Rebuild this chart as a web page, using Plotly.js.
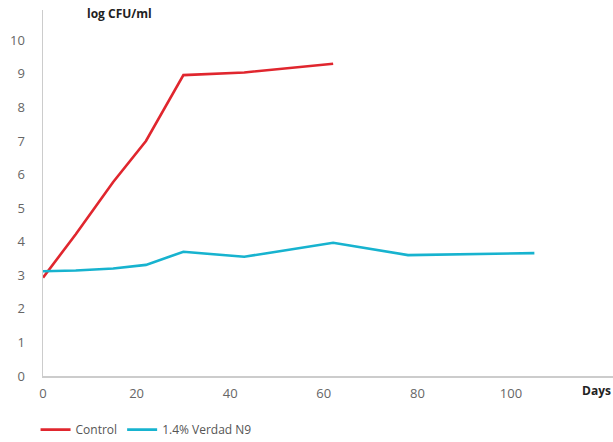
<!DOCTYPE html>
<html>
<head>
<meta charset="utf-8">
<script src="https://cdn.plot.ly/plotly-3.0.1.min.js"></script>
<style>html,body{margin:0;padding:0;background:#fff;}#chart{width:613px;height:442px;}</style>
</head>
<body>
<div id="chart"></div>
<script>
const controlDays = [0, 7, 15, 22, 30, 43, 62];
const controlValues = [2.93, 4.22, 5.78, 7.0, 8.96, 9.04, 9.3];
const verdadDays = [0, 7, 15, 22, 30, 43, 62, 78, 105];
const verdadValues = [3.12, 3.14, 3.2, 3.31, 3.7, 3.55, 3.97, 3.6, 3.66];
const yTicks = [0, 1, 2, 3, 4, 5, 6, 7, 8, 9, 10];
const xTicks = [0, 20, 40, 60, 80, 100];

const font = "Open Sans, Lato, sans-serif";
const traces = [
  {x: controlDays, y: controlValues, name: "Control", mode: "lines", type: "scatter",
   line: {color: "#e0262e", width: 2.6}},
  {x: verdadDays, y: verdadValues, name: "1.4% Verdad N9", mode: "lines", type: "scatter",
   line: {color: "#17b3cf", width: 2.6}}
];
const layout = {
  width: 613, height: 442,
  margin: {l: 43, r: 0, t: 10, b: 66, autoexpand: false},
  paper_bgcolor: "#fff", plot_bgcolor: "#fff",
  font: {family: font, color: "#666", size: 13},
  showlegend: true,
  legend: {orientation: "h", xref: "container", yref: "container", x: 0.058, y: 0.028,
           xanchor: "left", yanchor: "middle",
           font: {family: font, size: 12, color: "#555"}, itemwidth: 30, tracegroupgap: 0},
  xaxis: {range: [0, 121.8], tickvals: xTicks, ticktext: xTicks.map(String),
          showgrid: false, zeroline: false, showline: true, linecolor: "#cccccc", linewidth: 1.5,
          ticks: "outside", ticklen: 5, tickcolor: "rgba(0,0,0,0)",
          tickfont: {family: font, size: 13, color: "#666"}},
  yaxis: {range: [0, 10.9], tickvals: yTicks, ticktext: yTicks.map(String),
          showgrid: false, zeroline: false, showline: true, linecolor: "#cccccc", linewidth: 1.5,
          ticks: "outside", ticklen: 14, tickcolor: "rgba(0,0,0,0)",
          tickfont: {family: font, size: 13, color: "#666"}},
  annotations: [
    {text: "<b>log CFU/ml</b>", xref: "paper", yref: "paper", x: 0.074, y: 0.99,
     xanchor: "left", yanchor: "middle", showarrow: false, font: {family: font, size: 12, color: "#222"}},
    {text: "<b>Days</b>", xref: "paper", yref: "paper", x: 1.0, y: -0.04,
     xanchor: "right", yanchor: "middle", showarrow: false, font: {family: font, size: 12, color: "#222"}}
  ]
};
Plotly.newPlot("chart", traces, layout, {displayModeBar: false, staticPlot: true});
</script>
</body>
</html>
